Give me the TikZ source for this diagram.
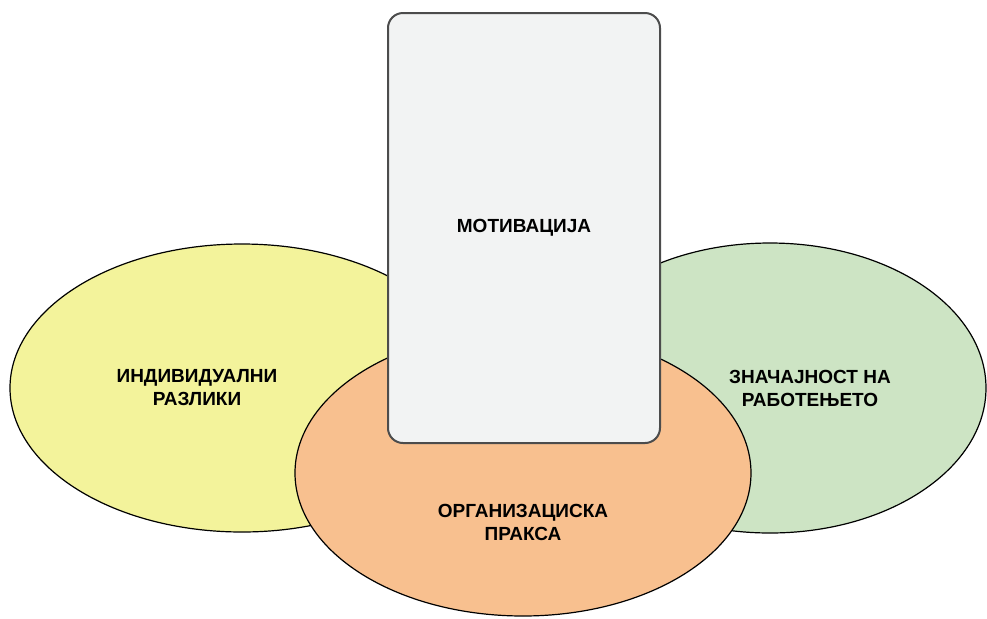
\documentclass[tikz,border=0pt]{standalone}
\usepackage{fontspec}
\setmainfont{Liberation Sans}
\usepackage{tikz}
\usetikzlibrary{calc,shapes}
\definecolor{ovalyellow}{HTML}{F3F39B}
\definecolor{ovalorange}{HTML}{F8C08F}
\definecolor{ovalgreen}{HTML}{CDE4C4}
\definecolor{boxgrey}{HTML}{F2F3F3}
\tikzstyle{oval}=[ellipse,draw=black,line width=0.6pt,inner sep=0pt]
\tikzstyle{yellowoval}=[oval,fill=ovalyellow,minimum width=232pt,minimum height=144pt]
\tikzstyle{orangeoval}=[oval,fill=ovalorange,minimum width=228pt,minimum height=143pt]
\tikzstyle{greenoval}=[oval,fill=ovalgreen,minimum width=216pt,minimum height=145pt]
\tikzstyle{motivbox}=[rectangle,rounded corners=7.5pt,draw=black!70,line width=1pt,
                      fill=boxgrey,minimum width=136pt,minimum height=215pt,
                      font=\fontsize{9.5}{11.5}\selectfont\bfseries]
\tikzstyle{ovaltext}=[font=\fontsize{9.5}{11.5}\selectfont\bfseries,inner sep=0pt]
\newcommand\nodelabel[3][12em]{\parbox{#1}{\centering #2 \\ #3 }}

\begin{document}
\begin{tikzpicture}[x=0.5pt,y=-0.5pt]
	\useasboundingbox (0,0) rectangle (987,618);
	\node [yellowoval] (differences) at (242,388) {};
	\node [greenoval] (significance) at (770,388) {};
	\node [orangeoval] (practice) at (523,473) {};
	\node [motivbox] (motivation) at (524,228) {МОТИВАЦИЈА};
	\node [ovaltext] (differences text) at ($(differences)+(-45,0)$) {
		\nodelabel{ИНДИВИДУАЛНИ}{РАЗЛИКИ}
	};
	\node [ovaltext] (significance text) at ($(significance)+(40,0)$) {
		\nodelabel{ЗНАЧАЈНОСТ НА}{РАБОТЕЊЕТО}
	};
	\node [ovaltext] (practice text) at ($(practice)+(0,49)$) {
		\nodelabel{ОРГАНИЗАЦИСКА}{ПРАКСА}
	};
\end{tikzpicture}
\end{document}
